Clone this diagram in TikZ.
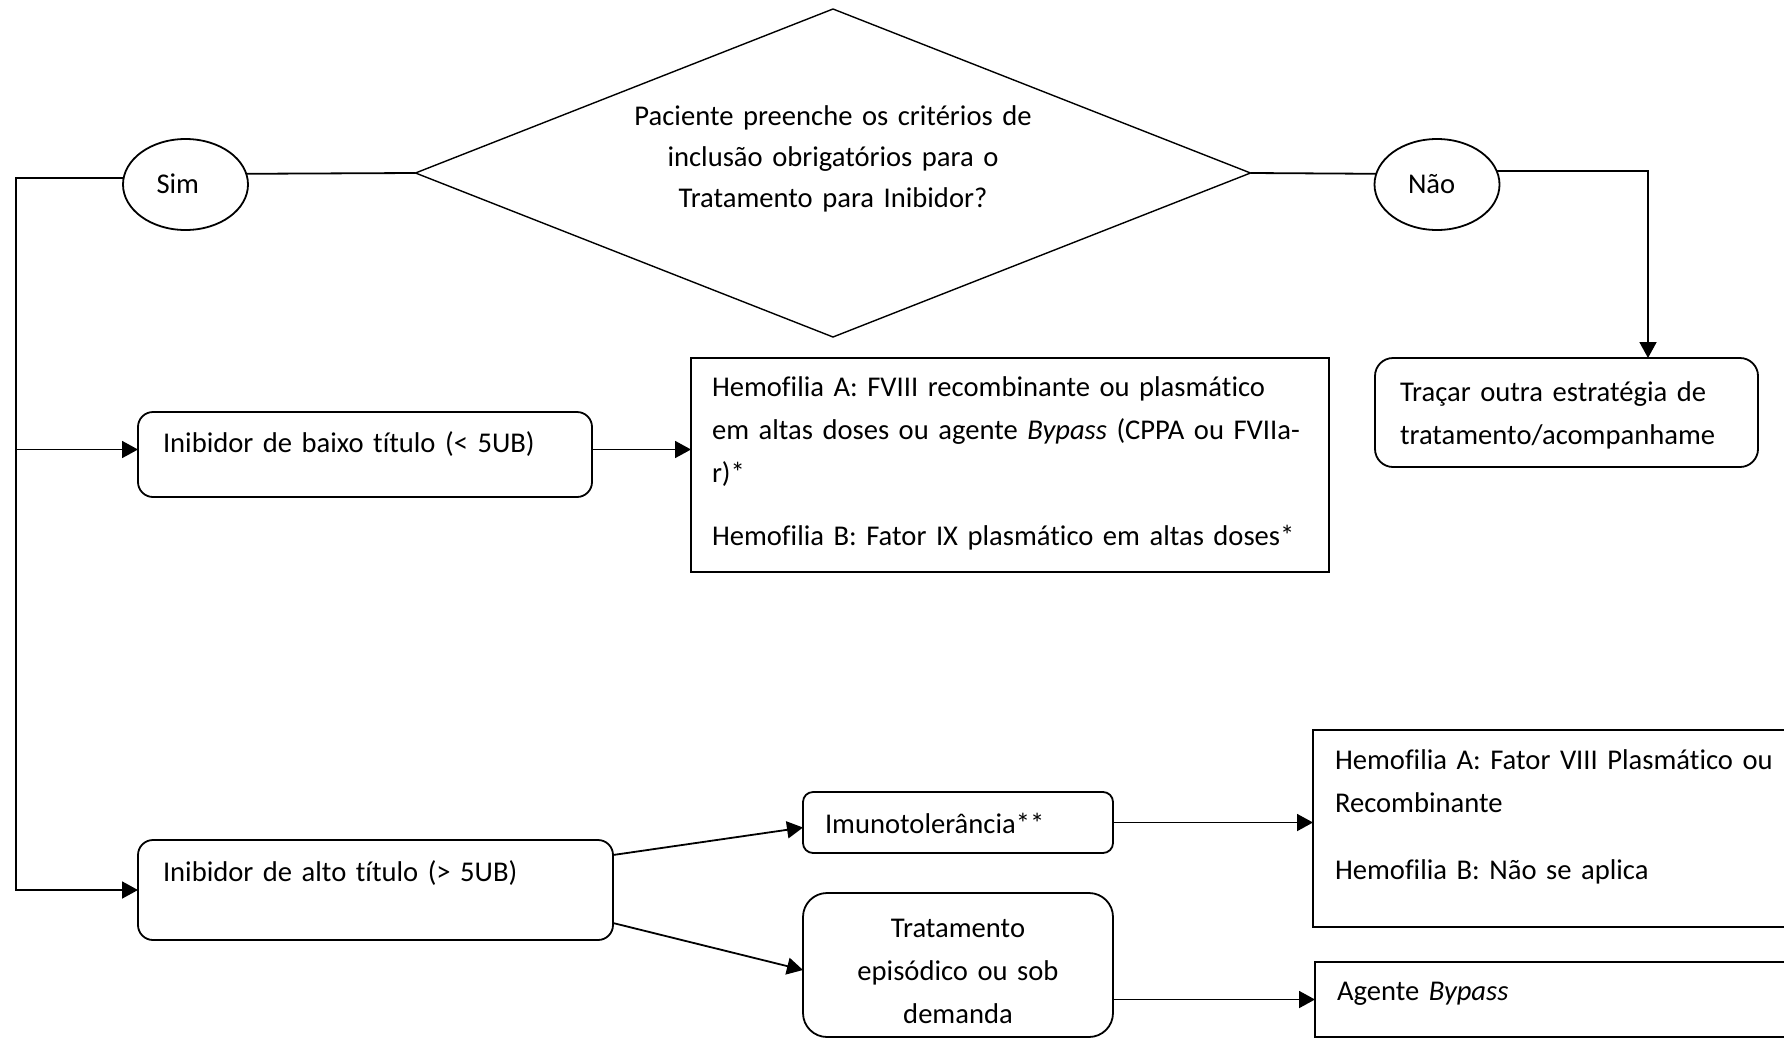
\documentclass[tikz,border=0pt]{standalone}
\usepackage{fontspec}
\setmainfont{Carlito}[Ligatures=NoCommon]
\usepackage{tikz}
\usetikzlibrary{arrows.meta}
\usetikzlibrary{positioning}
\usetikzlibrary{shapes.geometric}

\begin{document}
\begin{tikzpicture}[x=1pt, y=-1pt, line width=1.8pt,
  every node/.style={font=\fontsize{28.6}{43}\selectfont, outer sep=0pt},
  caixa/.style={draw, anchor=north west, inner xsep=22pt, inner ysep=0pt, align=left},
  rcaixa/.style={caixa, rounded corners=15pt},
  oval/.style={ellipse, draw, minimum width=125pt, minimum height=91pt, inner sep=0pt,
    text width=58pt, align=left, text height=17pt, text depth=0pt},
  seta/.style={-{Triangle[length=16pt, width=17pt]}}]

\useasboundingbox (0,0) rectangle (1784,1039);
\clip (0,0) rectangle (1784,1039);

% Decisao
\node[diamond, draw, line width=1.4pt, shape aspect=2.5, minimum width=835pt, minimum height=328pt, inner sep=0pt,
  text width=410pt, align=center, text height=0pt, text depth=96pt,
  font=\fontsize{28.6}{41}\selectfont] (crit) at (833,173)
  {Paciente preenche os critérios de\\ inclusão obrigatórios para o\\ Tratamento para Inibidor?};

\node[oval] (sim) at (185.5,184.5) {Sim};
\node[oval] (nao) at (1437,184.5) {Não};

% Caixas
\node[rcaixa, inner xsep=25pt, text width=404pt, text height=40pt, text depth=45pt] (baixo) at (138,412)
  {Inibidor de baixo título (< 5UB)};
\node[rcaixa, inner xsep=25pt, text width=425pt, text height=41pt, text depth=59pt] (alto) at (138,840)
  {Inibidor de alto título (> 5UB)};
\node[caixa, inner xsep=21pt, text width=596pt, text height=38pt, text depth=176pt] (hemoBaixo) at (691,358)
  {Hemofilia A: FVIII recombinante ou plasmático\\
   em altas doses ou agente \emph{Bypass} (CPPA ou FVIIa-\\
   r)*\\[20pt]
   Hemofilia B: Fator IX plasmático em altas doses*};
\node[rcaixa, inner xsep=25pt, rounded corners=18pt, text width=333pt, text height=43pt, text depth=66pt] (tracar) at (1375,358)
  {Traçar outra estratégia de\\ tratamento/acompanhame};
\node[rcaixa, rounded corners=10pt, text width=266pt, text height=41pt, text depth=20pt] (imuno) at (803,792)
  {Imunotolerância**};
\node[rcaixa, rounded corners=24pt, align=center, text width=266pt, text height=44pt, text depth=100pt] (episod) at (803,893)
  {Tratamento\\ episódico ou sob\\ demanda};
\node[caixa, text width=453pt, text height=39pt, text depth=158pt] (hemoImuno) at (1313,730)
  {Hemofilia A: Fator VIII Plasmático ou\\ Recombinante\\[24pt] Hemofilia B: Não se aplica};
\node[caixa, text width=451pt, text height=38pt, text depth=37pt] (agente) at (1315,962)
  {Agente \emph{Bypass}};

% Ligacoes
\coordinate (esq) at (16,0);
\coordinate (desvio) at (1648,0);

\draw (crit.west) -- (sim.10);
\draw[seta] (sim.174) -- (sim.174 -| esq) |- (alto.west);
\draw[seta] ([yshift=5pt]baixo.west -| esq) -- ([yshift=5pt]baixo.west);
\draw[seta] ([yshift=5pt]baixo.east) -- ([yshift=5pt]baixo.east -| hemoBaixo.west);
\draw (crit.east) -- (nao.170);
\draw[seta] (nao.13) -| (desvio |- tracar.north);
\draw[seta] ([yshift=35pt]alto.east) -- ([yshift=-5pt]imuno.west);
\draw[seta] ([yshift=-33pt]alto.east) -- ([yshift=-5pt]episod.west);
\draw[seta] (imuno.east) -- (imuno.east -| hemoImuno.west);
\draw[seta] (agente.west -| episod.east) -- (agente.west);

\end{tikzpicture}
\end{document}
